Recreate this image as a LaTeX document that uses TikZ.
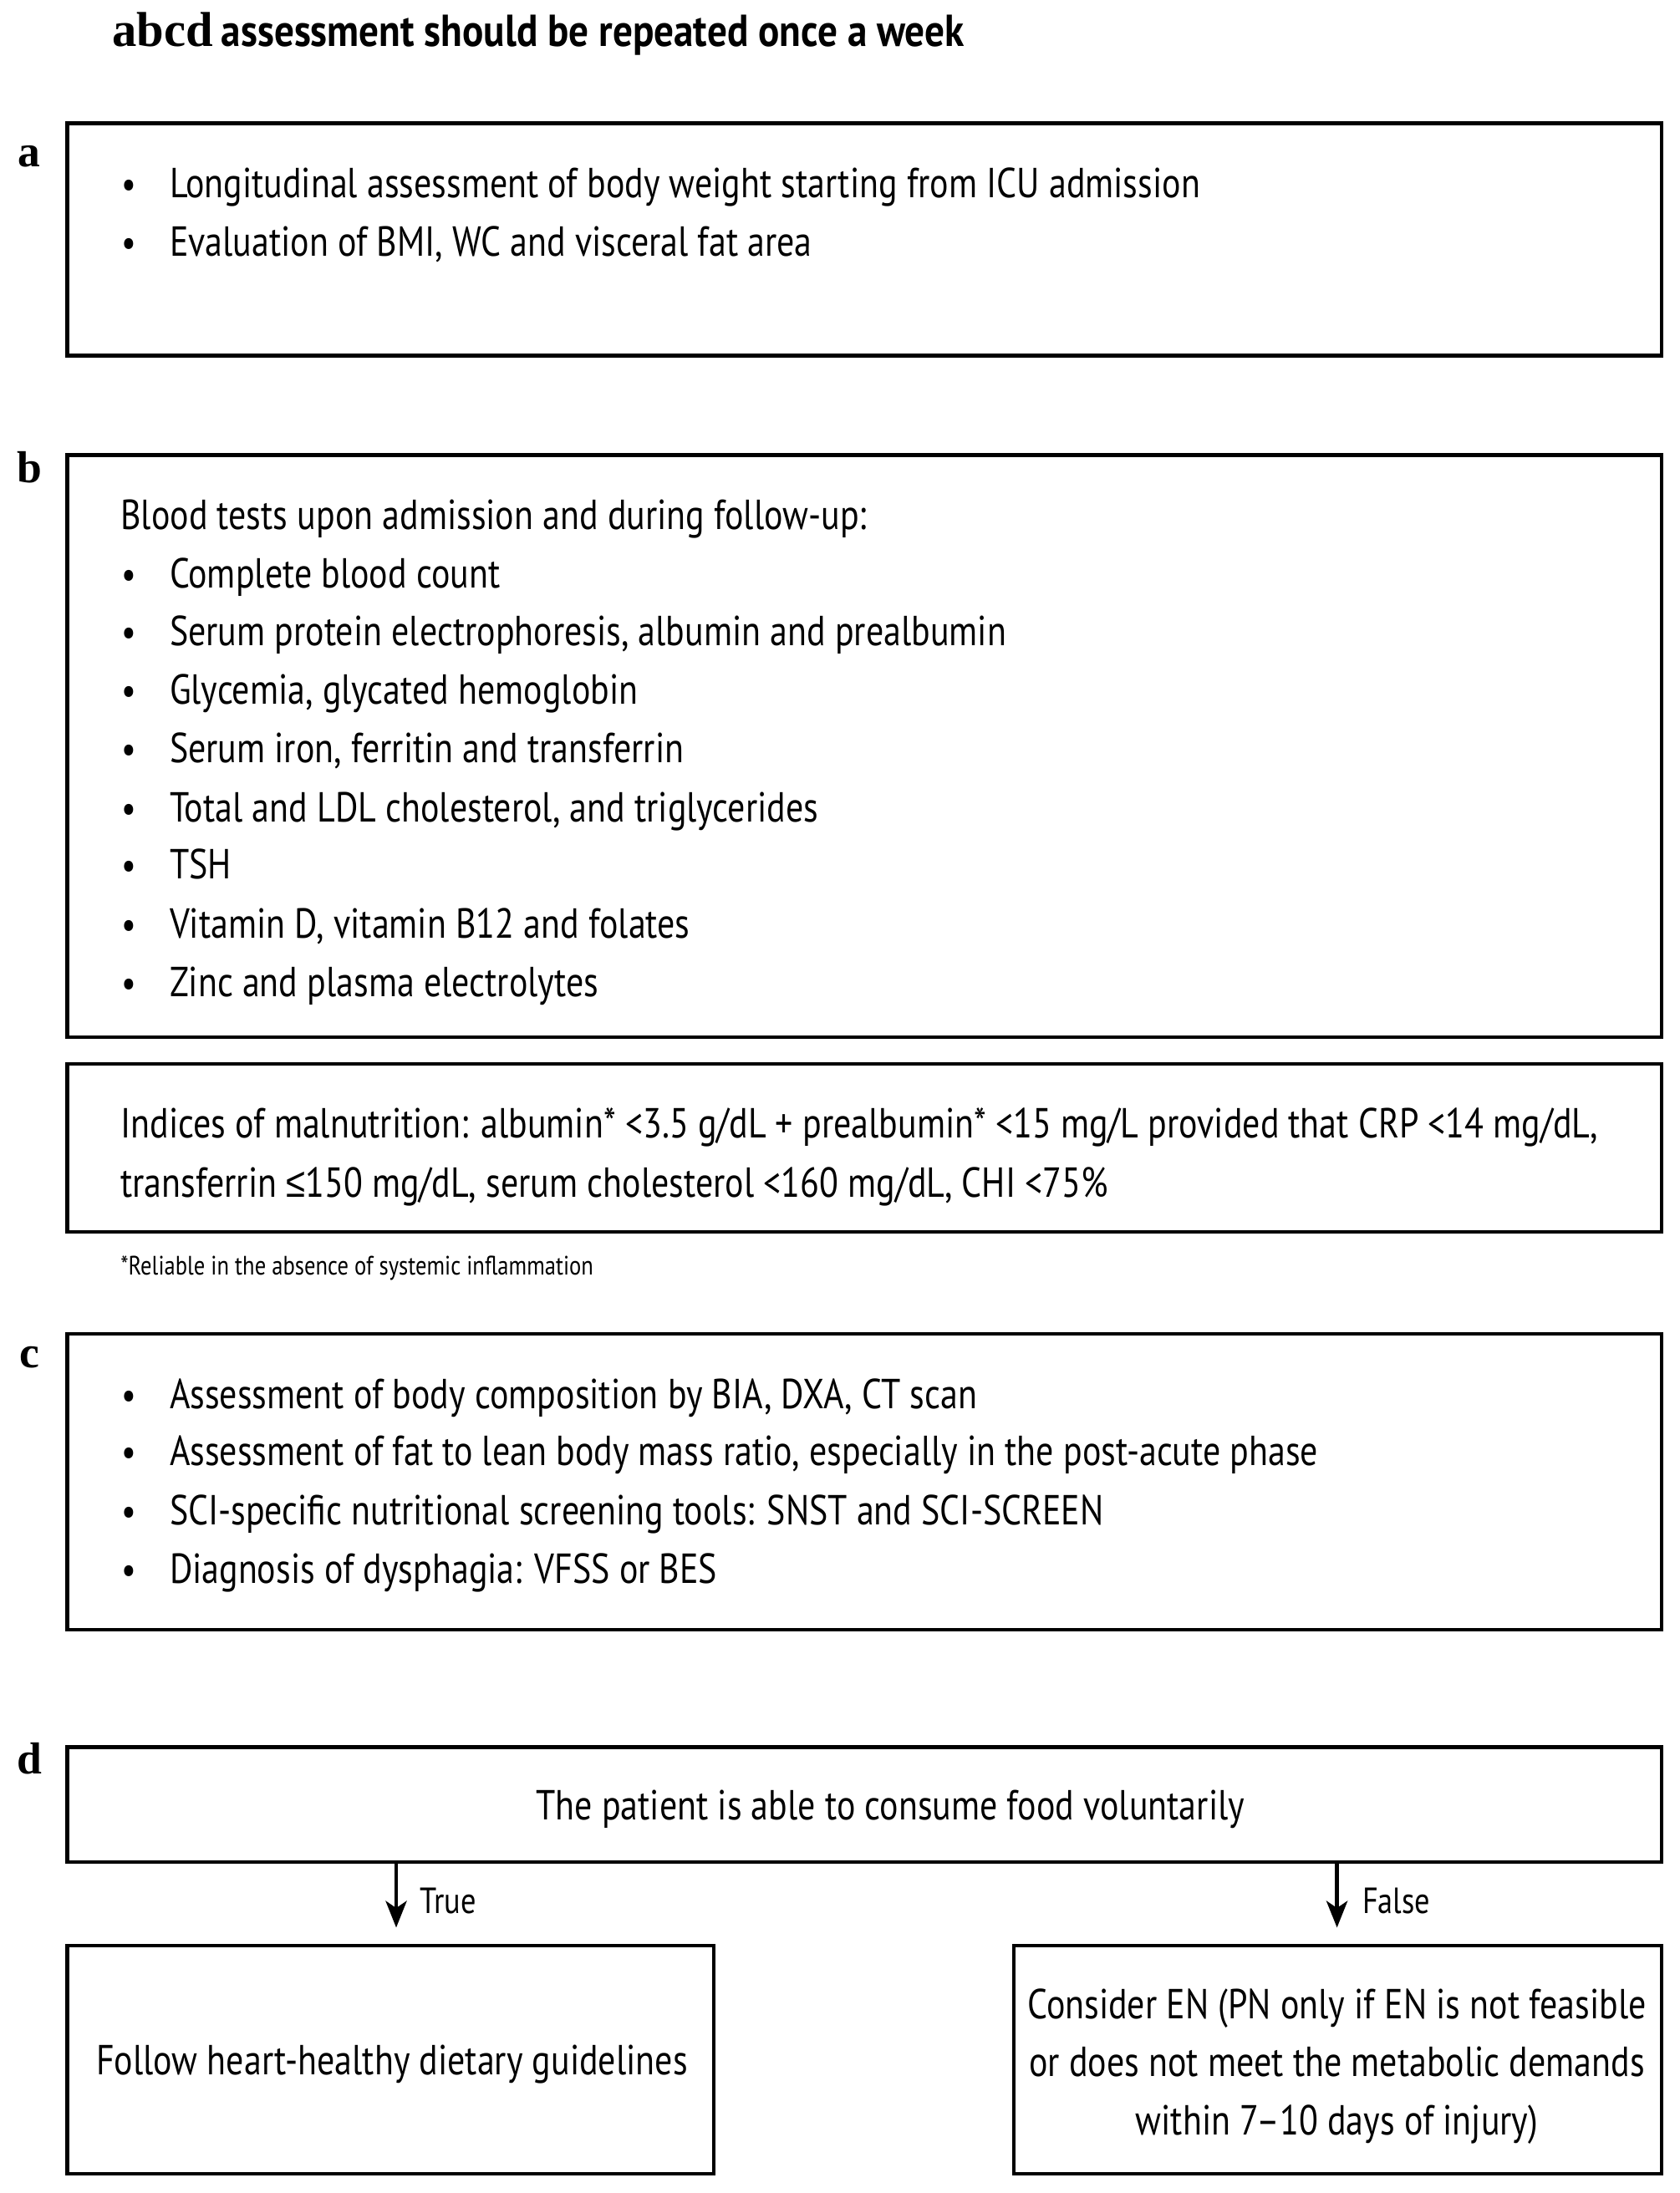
\documentclass[tikz,border=0pt]{standalone}
\usepackage{fontspec}
\setmainfont{PT Sans}[FakeStretch=0.835]
\newfontfamily\titlef{PT Sans}[FakeStretch=0.88]
\newfontfamily\serifb{Liberation Serif}
\newfontfamily\symf{Liberation Sans}[FakeStretch=0.835]
\usetikzlibrary{arrows.meta}
\tikzset{
  box/.style={draw=black, line width=2.6pt, inner sep=0pt, fill=none},
  txt/.style={anchor=base west, inner sep=0pt, font=\fontsize{30}{36}\selectfont},
  ctxt/.style={anchor=base, inner sep=0pt, font=\fontsize{30}{36}\selectfont},
  bul/.style={anchor=base, inner sep=0pt, font=\fontsize{28}{36}\selectfont},
  lab/.style={anchor=base, inner sep=0pt, font=\fontsize{32}{36}\serifb\bfseries},
  arr/.style={line width=2.8pt, -{Stealth[length=19pt,width=15pt,inset=5pt]}},
}
\newcommand{\bitem}[3]{\node[bul] (#1b) at (92,#2) {•}; \node[txt] (#1) at (121,#2) {#3};}
\begin{document}
\begin{tikzpicture}[x=1pt,y=1pt]
\useasboundingbox (0,0) rectangle (1200,-1566.6);
% title
\node[anchor=base west, inner sep=0pt] (title) at (80,-33) {{\fontsize{35}{36}\serifb\bfseries abcd}\hspace{6pt}{\fontsize{32}{36}\titlef\bfseries assessment should be repeated once a week}};
% labels
\node[lab] (la) at (21,-119) {a};
\node[lab] (lb) at (21,-345) {b};
\node[lab] (lc) at (21,-977) {c};
\node[lab] (ld) at (21,-1267) {d};
% box a
\node[box, minimum width=1139, minimum height=166] (boxa) at (617.5,-171) {};
\bitem{a1}{-141}{Longitudinal assessment of body weight starting from ICU admission}
\bitem{a2}{-183}{Evaluation of BMI, WC and visceral fat area}
% box b
\node[box, minimum width=1139, minimum height=416] (boxb) at (617.5,-533) {};
\node[txt] (b0) at (86,-378) {Blood tests upon admission and during follow-up:};
\bitem{b1}{-420}{Complete blood count}
\bitem{b2}{-461}{Serum protein electrophoresis, albumin and prealbumin}
\bitem{b3}{-503}{Glycemia, glycated hemoglobin}
\bitem{b4}{-545}{Serum iron, ferritin and transferrin}
\bitem{b5}{-587}{Total and LDL cholesterol, and triglycerides}
\bitem{b6}{-628}{TSH}
\bitem{b7}{-670}{Vitamin D, vitamin B12 and folates}
\bitem{b8}{-712}{Zinc and plasma electrolytes}
% indices box
\node[box, minimum width=1139, minimum height=120] (boxi) at (617.5,-820) {};
\node[txt] (i1) at (86,-813) {Indices of malnutrition: albumin* <3.5 g/dL + prealbumin* <15 mg/L provided that CRP <14 mg/dL,};
\node[txt] (i2) at (86,-855) {transferrin {\symf ≤}150 mg/dL, serum cholesterol <160 mg/dL, CHI <75\%};
\node[anchor=base west, inner sep=0pt, font=\fontsize{19}{22}\selectfont] (fn) at (86,-911) {*Reliable in the absence of systemic inflammation};
% box c
\node[box, minimum width=1139, minimum height=211] (boxc) at (617.5,-1058.5) {};
\bitem{c1}{-1006}{Assessment of body composition by BIA, DXA, CT scan}
\bitem{c2}{-1047}{Assessment of fat to lean body mass ratio, especially in the post-acute phase}
\bitem{c3}{-1089}{SCI-specific nutritional screening tools: SNST and SCI-SCREEN}
\bitem{c4}{-1131}{Diagnosis of dysphagia: VFSS or BES}
% box d
\node[box, minimum width=1139, minimum height=82] (boxd) at (617.5,-1289) {};
\node[ctxt] (dq) at (636,-1300) {The patient is able to consume food voluntarily};
\node[box, minimum width=462, minimum height=163] (boxt) at (279,-1471.5) {};
\node[ctxt] (tt) at (280,-1482) {Follow heart-healthy dietary guidelines};
\node[box, minimum width=463, minimum height=163] (boxf) at (955.5,-1471.5) {};
\node[ctxt] (f1) at (955,-1442) {Consider EN (PN only if EN is not feasible};
\node[ctxt] (f2) at (955,-1483) {or does not meet the metabolic demands};
\node[ctxt] (f3) at (955,-1525) {within 7–10 days of injury)};
% arrows
\coordinate (tend) at (283,-1377);
\coordinate (fend) at (955,-1377);
\draw[arr] (boxd.south -| tend) -- (tend);
\draw[arr] (boxd.south -| fend) -- (fend);
\node[anchor=base west, inner sep=0pt, font=\fontsize{26}{30}\selectfont] (ltrue) at (300,-1367) {True};
\node[anchor=base west, inner sep=0pt, font=\fontsize{26}{30}\selectfont] (lfalse) at (973,-1367) {False};
\end{tikzpicture}
\end{document}
